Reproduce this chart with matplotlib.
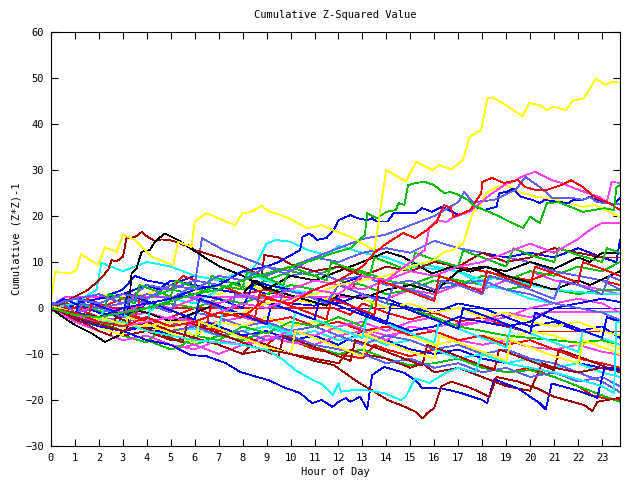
import matplotlib
matplotlib.use("Agg")
import matplotlib.pyplot as plt
import numpy as np

# colours used by the day lines (gnuplot-like palette)
R = '#ff0000'
G = '#00c000'
B = '#0000ff'
M = '#ff40ff'
C = '#00ffff'
D = '#a00000'
Y = '#ffff00'
K = '#000000'
L = '#6060ff'

# each day: (hour, cumulative value) points
blue_zero = [(0, 0), (23.75, 0)]
yellow_top = [(0, 1.5), (0.17, 7.8), (0.8, 7.6), (1.07, 8.3), (1.25, 11.7), (1.97, 9.3), (2.25, 13.2),
              (2.74, 12.2), (3.01, 15.9), (3.5, 14.8), (3.92, 12.6), (4.2, 11.2), (5.1, 9.3), (5.3, 14.4),
              (5.86, 13.3), (6.0, 18.8), (6.49, 20.6), (7.18, 19.1), (7.67, 18.0), (8.0, 20.6), (8.36, 20.9),
              (8.78, 22.2), (9.13, 20.9), (9.61, 20.2), (10.1, 19.1), (10.7, 17.3), (11.28, 18.0), (11.96, 16.5),
              (12.5, 15.5), (13.0, 14.0), (13.5, 12.6), (13.99, 30.0), (14.82, 27.5), (15.24, 31.8), (15.93, 30.0),
              (16.2, 31.1), (16.7, 30.1), (17.2, 32.2), (17.47, 37.2), (17.95, 38.7), (18.22, 45.6), (18.43, 45.8),
              (18.99, 44.1), (19.68, 41.7), (19.96, 44.6), (20.4, 44.1), (20.7, 43.0), (20.98, 43.8), (21.49, 43.0),
              (21.76, 45.0), (22.25, 45.6), (22.74, 49.9), (23.15, 48.5), (23.43, 49.2), (23.71, 49.0)]
green_top = [(0, 0), (1, -1.5), (2, -2), (3, -1), (4, 0), (5, 1.5), (6, 3), (7, 4), (8, 6), (9, 7.5), (10, 9),
             (11, 10.5), (11.8, 12), (12.5, 13), (13.1, 15.9), (13.2, 20.6), (13.6, 19.5), (14.0, 20.9),
             (14.4, 21.3), (14.5, 22.8), (14.75, 22.4), (14.9, 26.7), (15.25, 27.2), (15.6, 27.4), (16.0, 26.7),
             (16.4, 25.0), (16.7, 25.2), (17.0, 24.6), (17.4, 23.5), (17.6, 22.4), (17.9, 21.7), (18.6, 20.2),
             (19.0, 19.1), (19.7, 17.4), (20.0, 19.8), (20.4, 18.5), (20.7, 22.8), (21.2, 23.0), (22.2, 20.9),
             (23.1, 21.7), (23.5, 21.3), (23.6, 26.3), (23.75, 26.7)]
red_top = [(0, 0), (1, -1), (2, -3), (3, -4), (4, -2), (5, -4), (6, -3), (7, -1), (8, -2), (9, 2), (10, 1),
           (11, 4), (12, 6), (13, 9), (13.5, 12), (14.0, 14), (14.7, 16.3), (15.2, 15.2), (15.7, 17.0),
           (16.1, 18.7), (16.4, 22.4), (16.7, 21.7), (16.8, 19.8), (17.5, 21.3), (17.96, 25.0), (18.0, 27.4),
           (18.4, 28.3), (18.9, 27.2), (19.5, 27.8), (19.8, 26.3), (20.2, 25.7), (20.7, 25.7), (21.3, 26.7),
           (21.7, 27.8), (22.2, 26.3), (22.7, 24.1), (23.3, 22.8), (23.75, 21.3)]
magenta_top = [(0, 0), (1, -1.5), (2, -3), (3, -4), (5, -2), (6, -3), (8, 1), (9, 0), (11, 4), (12, 3),
               (13, 7), (14, 6), (15, 10), (15.6, 12.6), (15.8, 17.6), (16.1, 19.1), (16.5, 18.7), (16.75, 19.6),
               (17.5, 21), (18.3, 24.5), (19.0, 27.0), (19.25, 27.4), (19.8, 28.9), (20.2, 29.6), (20.9, 27.8),
               (21.3, 27.2), (21.8, 26.1), (22.3, 25.2), (22.9, 24.1), (23.2, 23.0), (23.4, 27.4), (23.75, 27.2)]
lblue_top = [(0, 0.5), (1, 2), (2, 1), (3, 3), (4, 2), (5, 5), (6, 4), (7, 7), (8, 6), (9, 9), (10, 8),
             (11, 11), (12, 13), (13, 15), (14, 16), (15, 18), (16, 20), (17, 23), (17.25, 25.2), (17.6, 23),
             (18.5, 23.5), (19.4, 25.7), (19.8, 28.5), (20.1, 27.4), (20.4, 26.3), (20.7, 25.0), (20.9, 23.9),
             (21.8, 23.9), (22.2, 23.5), (22.5, 24.1), (22.8, 23.0), (23.2, 22.8), (23.75, 22.6)]
blue_top = [(0, 0), (1, -1), (2, -2), (3, 0), (4, 1), (5, 2), (6, 4), (7, 5), (8, 8), (9, 9), (9.5, 10),
            (10.4, 12.6), (10.5, 15.5), (10.8, 16.2), (11.1, 14.8), (11.5, 15.2), (11.8, 17.0), (12.0, 19.1),
            (12.5, 20.2), (12.8, 19.5), (13.2, 19.1), (13.4, 19.5), (13.6, 18.8), (14.05, 18.8), (14.3, 20.6),
            (15.2, 20.6), (15.5, 21.7), (15.9, 20.9), (16.3, 22.0), (16.6, 21.3), (17.0, 20.2), (17.3, 20.6),
            (17.7, 22.0), (18.1, 21.3), (18.6, 22.0), (18.7, 24.9), (19.05, 25.3), (19.3, 26.0), (19.4, 25.3),
            (19.6, 24.2), (20.1, 23.5), (20.4, 22.8), (20.6, 23.5), (21.1, 23.1), (21.6, 22.8), (21.8, 23.5),
            (22.2, 23.5), (22.5, 24.2), (22.7, 23.5), (23.1, 23.1), (23.5, 22.4), (23.75, 24.0)]
yellow_b = [(0, 0.5), (1, -1), (2, -2), (3, -3.5), (4, -4), (5, -3), (6, -3), (7, -1), (8, -1), (9, 1), (10, 2),
            (11, 3), (12, 5), (13, 6), (14, 7), (15, 9), (16, 10.4), (16.4, 12.2), (16.8, 12.6), (17.2, 14.0),
            (17.6, 20.6), (17.9, 22.0), (18.15, 24.9), (18.4, 25.7), (18.7, 26.4), (19.0, 26.7), (19.5, 25.3),
            (20.2, 24.2), (20.9, 23.8), (21.6, 22.8), (22.2, 22.0), (22.7, 22.4), (23.3, 20.9), (23.75, 19.8)]
blue_low = [(0, 0), (0.5, -1), (1, -2), (2, -4), (3, -5), (4, -7), (5, -8), (5.8, -10.2), (6.5, -10.5),
            (7.3, -12), (7.9, -13.9), (8.6, -15), (9.1, -15.7), (9.7, -17.2), (10.4, -18.5), (10.9, -20.7),
            (11.3, -20), (11.75, -21.5), (12.0, -20.4), (12.3, -19.6), (12.5, -20.4), (12.9, -19.3), (13.2, -22),
            (13.4, -14.6), (13.9, -12.8), (14.75, -14.1), (15.2, -15.7), (15.5, -17.4), (16.3, -17.5),
            (17, -18.3), (18, -20), (18.2, -20.7), (18.5, -15.5), (19.5, -17.5), (20.4, -20.7), (20.65, -22),
            (20.9, -16.4), (22, -18), (22.8, -19.5), (23.1, -13), (23.75, -13.5)]
darkred_low = [(0, 0), (1, -2), (2, -3.5), (3, -5), (4, -3), (5, -5), (6, -6.5), (7, -8), (7.5, -9), (8, -10),
               (9, -9), (10, -10), (11, -11.5), (11.8, -12.4), (12.4, -14.6), (12.9, -16.4), (13.5, -18.2),
               (14.05, -20), (14.6, -21.1), (15.2, -22.5), (15.5, -24), (15.7, -22.9), (16, -21.7), (16.3, -17),
               (16.7, -16), (17.3, -17), (17.7, -17.8), (18.3, -19.3), (18.6, -15), (19.5, -16), (20.3, -17.5),
               (21, -19.3), (21.5, -20), (22.25, -21.1), (22.6, -22.4), (22.8, -20.4), (23.75, -19.5)]
cyan_low = [(0, 0), (1, -1.5), (2, -3), (3, -3), (4, -5), (5, -6), (6, -7), (7, -7.5), (8, -8), (9, -9.1),
            (9.7, -11.3), (10.2, -13.5), (10.8, -15.3), (11.35, -16.7), (11.76, -18.9), (12, -16.4), (12.1, -18.2),
            (12.67, -17.8), (13.1, -17.8), (13.9, -18.5), (14.6, -20), (14.8, -19.3), (15.2, -15.3), (15.8, -16.3),
            (16.5, -14), (17, -13), (17.7, -14), (18, -10), (19, -12), (20, -13), (21, -14), (22, -15.5),
            (23, -17), (23.5, -18.5), (23.6, -3), (23.75, -3)]
black_a = [(0, 0), (0.5, -2), (1, -3.7), (1.7, -5.5), (2.25, -7.4), (2.8, -6), (3.2, -4.1), (3.36, 7.5),
           (3.57, 8.6), (3.78, 12.2), (4.13, 12.6), (4.33, 14.4), (4.75, 16.2), (5.3, 14.8), (5.93, 12.6),
           (6.6, 10.4), (7.05, 9), (8, 7), (8.7, 5), (9.5, 3.5), (10.5, 2), (11.5, 0.5), (12, 3), (13, 2),
           (14, 4), (15, 5), (16, 3.5), (17, 8), (18, 9), (19, 8), (20, 10), (21, 8.5), (22, 11), (22.5, 10),
           (23, 12), (23.75, 12)]
black_b = [(0, 0), (1, -1), (2, -2), (3, 0), (4, -1), (5, -3), (6, -1), (7, 1), (8, 3), (8.5, 6), (9, 4),
           (10, 7), (11, 6), (12, 8), (13, 10), (14, 12.2), (14.7, 11.1), (15.4, 9), (15.9, 7.5), (16.75, 9),
           (17.5, 7.9), (18.2, 9), (19, 7), (20, 5.5), (21, 4), (22, 6), (22.5, 5), (23.75, 8)]
darkred_b = [(0, 0), (0.5, 1), (1, 2.5), (1.5, 3.8), (2, 6), (2.39, 8.3), (2.53, 10.4), (2.74, 10.1),
             (3.01, 11.2), (3.15, 15.2), (3.5, 15.4), (3.78, 16.5), (4.05, 15.4), (4.33, 14.6), (4.6, 14.9),
             (4.89, 14.8), (5.24, 14.4), (5.51, 13.7), (5.72, 13.7), (6.0, 12.6), (7, 11), (8, 9), (8.8, 7),
             (8.9, 11.5), (9.5, 11), (10, 9.5), (11, 8), (12, 9), (13, 7), (14, 9), (15, 8), (16, 10), (17, 9),
             (18, 12), (19, 10), (20, 11), (21, 13), (22, 12), (23, 11), (23.75, 11)]
red_zero = [(0, 0), (0.2, 0), (11.8, 0), (12.5, -1.5), (13, 1), (14, -1), (15, -2.5), (16, -1), (17, -3),
            (18, -2), (19, -4), (19.8, -5.1), (23.75, -5.1)]
magenta_flat = [(0, 0), (0.3, 1.5), (0.6, 2.4), (13.5, 2.4), (14, 2), (15, 4), (16, 3), (17, 5), (18, 4),
                (19, 6), (20, 8), (21, 6), (22, 5), (23, 4), (23.75, 3)]
magenta_end = [(0, 0), (2, -3), (4, -1), (6, -4), (8, -2), (10, -5), (12, -3), (14, -6), (16, -4), (18, -3),
               (19, -1), (20, -2), (20.7, -0.8), (23.75, -0.8)]
red_a = [(0, 0.5), (0.5, 1.5), (1, 0), (1.5, 2), (2, 1), (3, -1), (4, -2.5), (5, -4), (5.5, -2), (6, -3),
         (7, -5), (8, -6), (9, -8), (9.5, -6), (10, -7), (11, -9), (12, -10), (13, -11), (13.5, -8), (14, -9),
         (15, -10.5), (16, -9), (17, -11), (18, -12.5), (19, -14), (20, -13), (21, -15), (22, -17), (22.6, -19),
         (23, -19.5), (23.75, -20)]
green_b = [(0, 0), (0.5, -1), (1, -2.5), (2, -4), (3, -6), (4, -7.5), (4.5, -5), (5, -6.5), (6, -8), (7, -6),
           (8, -7), (9, -5), (10, -7), (11, -8.5), (12, -10), (13, -9), (14, -11), (15, -12.5), (16, -12),
           (17, -11), (18, -13), (19, -14), (20, -13.5), (21, -15), (22, -17), (22.5, -18), (23, -19),
           (23.75, -20.4)]
green_c = [(0, 0), (1, -2), (2, -3), (3, -5), (4, -7), (5, -9), (5.5, -8), (6, -6), (7, -7), (8, -4),
           (9, -5.5), (10, -3), (11, -4), (12, -2), (13, -4), (13.5, 2), (14, 1), (15, 0), (16, -2), (17, -4),
           (18, -5), (19, -6), (20, -6.5), (21, -7), (22, -7.5), (23, -7), (23.75, -8)]
lblue_b = [(0, 0), (1, -1), (2, -2), (3, -3), (4, -2), (5, -4), (6, -1), (7, -2), (8, -4), (9, -3), (10, -5),
           (11, -4), (12, -6), (13, -8), (14, -6), (15, -7), (16, -9), (17, -8), (18, -10), (19, -9), (20, -11),
           (21, -12), (22, -14), (23, -16), (23.75, -18.3)]
lblue_c = [(0, 1), (1, 2), (2, 3), (3, 1), (4, 5), (5, 4), (6, 6), (7, 5), (8, 8), (9, 7), (10, 9), (11, 11),
           (12, 10), (13, 12), (14, 13), (15, 12), (16, 14.6), (17, 13), (18, 12), (19, 11), (20, 10), (21, 8),
           (22, 7), (23, 6), (23.75, 4)]
lblue_d = [(0, 0), (0.5, 1), (1, -1), (2, 0), (3, 1), (4, 3), (5, 2), (6, 5), (6.3, 15.2), (7.2, 12.6),
           (8, 11), (9, 9), (10, 7), (11, 8), (12, 6), (13, 7), (14, 5), (15, 6), (16, 4), (17, 5), (18, 6),
           (19, 4), (20, 3), (21, 1), (22, 0), (23, -1), (23.75, -2.6)]
lblue_e = [(0, 0), (1, -1), (2, -3), (3, -4), (4, -3), (5, -5), (6, -4), (7, -6), (8, -5), (9, -7), (10, -6),
           (11, -8), (12, -9), (13, -10), (14, -12), (15, -11), (16, -13), (17, -12), (18, -14), (19, -13),
           (20, -15), (21, -14), (22, -16), (23, -15), (23.75, -17)]
lblue_f = [(0, 0), (0.5, -1), (1, -2), (1.3, 1), (2, 0), (3, -2), (3.3, 2), (4, 1), (5, -1), (5.3, 3), (6, 2),
           (7, 0), (7.5, -1), (7.7, 3), (8.5, 2), (9.5, 0), (9.7, 4), (10.5, 3), (11.5, 1), (12, 5), (13, 3),
           (14, 1), (14.3, 5), (15, 4), (16, 2), (16.3, 6), (17, 5), (18, 3), (18.3, 7), (19, 6), (20, 4),
           (21, 2), (21.3, 6), (22, 5), (23, 3), (23.3, 7), (23.75, 6)]
magenta_b = [(0, 0), (1, -3), (2, -5), (3, -7), (4, -6), (5, -8), (6, -9), (7, -7), (8, -8), (9, -6),
             (10, -7.5), (11, -8), (12, -6), (13, -5), (14, -7), (15, -4), (16, -5), (17, -7), (18, -8), (19, -7),
             (20, -8.5), (21, -9), (22, -8), (23, -9.5), (23.75, -10.2)]
magenta_c = [(0, -0.5), (1, -2), (2, -4), (3, -5), (4, -7), (5, -9), (6, -8), (7, -10), (8, -8), (9, -7),
             (10, -5), (11, -6), (12, -4), (13, -3), (14, -5), (15, -3), (16, -2), (17, -4), (18, -3), (19, -2),
             (20, 0), (21, 1), (22, 2), (23, 1), (23.75, -1)]
magenta_d = [(0, 0), (1, -1), (2, 0.5), (3, -1), (4, 1), (5, 0), (6, 2), (7, 1), (8, 3), (9, 2), (10, 4),
             (11, 6), (12, 5), (13, 4), (14, 6), (15, 8), (16, 7), (17, 9), (18, 10), (19, 12), (20, 14),
             (20.5, 13), (21, 12), (22, 15), (22.5, 17), (23, 18.5), (23.75, 18.5)]
cyan_b = [(0, 0), (1, 1), (1.9, 4), (2.1, 9.8), (3, 8), (4, 10), (5, 9), (6, 7), (7, 6), (8, 8), (9, 6),
          (10, 4), (11, 3), (12, 5), (13, 4), (14, 6), (15, 10), (16, 9), (17, 8), (18, 6), (19, 7), (20, 5),
          (21, 4), (22, 3.5), (23, 3), (23.75, 3)]
cyan_c = [(0, 0), (1, -1), (2, -2), (3, 0), (4, -1), (5, 2), (6, 1), (7, 4), (8, 6), (8.5, 9), (9, 14),
          (9.4, 14.8), (10, 14.4), (10.7, 12.6), (11.5, 11.5), (12, 13.5), (13, 12), (14, 11), (15, 9),
          (16, 8.5), (17, 8), (18, 5), (19, 4), (20, 2), (21, 1), (22, 0), (23, -1), (23.75, -1)]
cyan_d = [(0, 0), (1, -1.5), (2, -2), (3, -4), (4, -3), (5, -5), (6, -4.5), (7, -6), (8, -5), (9, -4),
          (10, -6), (11, -5), (12, -7), (13, -6), (14, -8), (15, -7), (16, -9), (17, -11), (18, -10), (19, -12),
          (20, -11), (21, -13), (22, -12), (23, -14), (23.75, -15)]
cyan_e = [(0, 0), (0.5, -1), (1, -2), (1.5, -3), (2, -4), (2.2, 0), (3, -1.5), (4, -3.5), (4.2, 1), (5, -0.5),
          (6, -2.5), (7, -4.5), (7.2, 0), (8, -1.5), (9, -3.5), (10, -5.5), (10.2, -1), (11, -2.5), (12, -4.5),
          (13, -6.5), (13.2, -2), (14, -3.5), (15, -5.5), (16, -7.5), (16.2, -3), (17, -4.5), (18, -6.5),
          (19, -8.5), (19.2, -4), (20, -5.5), (21, -7.5), (22, -9.5), (22.2, -5), (23, -6.5), (23.75, -8)]
blue_b = [(0, 0), (0.5, 2), (1, 1), (2, -1), (3, -2), (4, 1), (5, 2), (6, 3), (7, 2), (8, 0), (8.5, 6),
          (9, 5), (10, 4), (11, 6), (12, 5), (13, 7), (14, 6), (15, 8), (16, 10), (17, 9), (18, 12), (19, 11),
          (20, 12), (21, 11), (22, 13), (23, 11), (23.6, 10), (23.75, 14.8)]
blue_c = [(0, 0), (1, -2), (2, -3), (3, -5), (4, -4), (5, -6), (6, -7), (6.5, -3), (7, -4), (8, -6), (9, -5),
          (10, -7), (11, -6), (12, -8), (13, -5), (14, -7), (15, -9), (16, -10), (17, -9), (18, -11), (19, -12),
          (20, -11), (21, -13), (22, -12), (23, -13), (23.75, -13)]
blue_d = [(0, 0), (1, 1), (2, 2), (3, 3), (4, 5), (4.5, 4), (5, 6), (6, 5), (7, 4), (8, 3), (9, 2), (10, 1),
          (11, 0.5), (12, 2), (13, -1), (14, -3), (15, -5), (16, -4), (17, -2), (18, -3), (19, -4), (20, -3),
          (21, 0), (22, 1), (23, 2), (23.75, 1.3)]
blue_e = [(0, 0), (0.5, -1), (1, 1), (2, 2), (3, 4), (3.5, 7), (4, 6), (5, 5), (6, 7), (7, 6), (8, 5), (9, 3),
          (10, 4), (11, 2), (12, 1), (13, 3), (14, 2), (15, 0), (16, -1), (17, 1), (18, 0), (19, -2), (20, -4),
          (21, -3), (22, -5), (23, -4), (23.75, -6.5)]
blue_f = [(0, 0), (0.5, -1), (1, -2), (1.2, 2), (2, 0.5), (3, -1.5), (3.2, 3), (4, 1.5), (5, -0.5), (6, -2.5),
          (6.2, 2), (7, 0.5), (8, -1.5), (9, -3.5), (9.2, 1), (10, -0.5), (11, -2.5), (11.2, 2), (12, 0.5),
          (13, -1.5), (14, -3.5), (14.2, 1), (15, -0.5), (16, -2.5), (17, -4.5), (17.2, 0), (18, -1.5),
          (19, -3.5), (20, -5.5), (20.2, -1), (21, -2.5), (22, -4.5), (23, -6.5), (23.2, -2), (23.75, -3)]
red_b = [(0, 0), (1, 1), (2, 0), (3, 2), (3.5, 3), (4, 2), (5, 4), (5.5, 7), (6, 6), (7, 5), (8, 3), (9, 4),
         (10, 2), (11, 3), (12, 5), (12.5, 4), (13, 7), (14, 6), (15, 8), (16, 7), (17, 9), (18, 8), (19, 7),
         (20, 6), (21, 8), (22, 7), (23, 6), (23.75, 5)]
red_c = [(0, 1), (1, 0), (2, -2), (3, -1), (4, -3), (5, -2), (6, 0), (7, -2), (8, -1), (9, -3), (10, -2),
         (11, -4), (12, -3), (13, -5), (14, -4), (15, -6), (16, -5), (17, -7), (18, -6), (19, -8), (20, -7),
         (21, -9), (22, -11), (23, -12), (23.75, -13)]
red_d = [(0, 0), (0.5, -1), (1, -2), (1.5, -3), (1.7, 1), (2.5, -0.5), (3.5, -2.5), (3.7, 2), (4.5, 0.5),
         (5.5, -1.5), (6.5, -3.5), (6.7, 1), (7.5, -0.5), (8.5, -2.5), (8.7, 3), (9.5, 1.5), (10.5, -0.5),
         (11.5, -2.5), (11.7, 2), (12.5, 0.5), (13.5, -1.5), (13.7, 6), (14.5, 4.5), (15.5, 2.5), (16, 1.5),
         (16.2, 7), (17, 5.5), (18, 3.5), (18.2, 8), (19, 6.5), (20, 4.5), (20.2, 9), (21, 7.5), (22, 5.5),
         (22.2, 10), (23, 8.5), (23.75, 7)]
darkred_c = [(0, 0), (1, -2), (2, -4), (3, -6), (4, -5), (5, -7), (6, -6.5), (7, -8), (8, -10), (8.5, -7),
             (9, -8), (10, -10), (11, -11), (12, -12), (12.5, -9), (13, -10), (14, -11), (15, -13), (15.5, -12),
             (16, -14), (17, -13), (18, -15), (19, -17), (20, -18), (20.5, -12), (21, -13), (22, -14), (23, -13),
             (23.75, -13.9)]
darkred_d = [(0, 0), (0.5, -1), (1, -2.5), (1.5, -3.5), (2, -5), (2.5, -6), (2.7, -2), (3.5, -3.5), (4.5, -5.5),
             (5.5, -7.5), (5.7, -3), (6.5, -4.5), (7.5, -6.5), (8.5, -8.5), (9.5, -10.5), (9.7, -6), (10.5, -7.5),
             (11.5, -9.5), (12.5, -11.5), (12.7, -7), (13.5, -8.5), (14.5, -10.5), (15.5, -12.5), (15.7, -8),
             (16.5, -9.5), (17.5, -11.5), (18.5, -13.5), (18.7, -9), (19.5, -10.5), (20.5, -12.5), (21, -13.5),
             (21.2, -9), (22, -10.5), (23, -12.5), (23.75, -14)]
green_d = [(0, 0), (1, 2), (2, 1), (3, 3), (4, 2), (5, 4), (6, 3), (7, 5), (8, 4), (9, 6), (10, 8), (11, 7),
           (12, 9), (13, 8), (14, 6), (15, 5), (16, 7), (17, 6), (18, 5), (19, 4), (20, 5), (21, 4), (22, 3),
           (23, 4), (23.75, 3.9)]
green_e = [(0, 0), (1, -1), (2, 0), (3, -2), (4, 0), (5, 1), (6, 0), (7, 2), (8, 1), (9, 3), (10, 5), (11, 4),
           (12, 6), (13, 5), (14, 3), (15, 4), (16, 6), (17, 5), (18, 7), (19, 6), (20, 8), (21, 7), (22, 9),
           (23, 8), (23.75, 10)]
green_f = [(0, 0), (0.5, -1), (1, -2), (1.2, 1), (1.7, 0), (2.2, -1), (2.4, 3), (3, 2), (3.5, 1), (3.7, 5),
           (4.5, 3.5), (5, 2.5), (5.2, 6), (6, 4.5), (6.5, 3.5), (6.7, 7), (7.5, 5.5), (8, 4.5), (8.2, 8),
           (9, 6.5), (9.7, 5), (10, 9), (11, 7), (11.5, 6), (11.7, 10), (12.5, 8.5), (13.3, 7), (13.5, 11),
           (14.5, 9), (15, 8), (15.2, 12), (16, 10.5), (17, 9), (17.2, 12.5), (18, 11), (19, 9), (19.3, 13),
           (20, 11.5), (21, 10), (21.2, 13), (22, 11.5), (23, 10), (23.2, 13), (23.75, 12)]
yellow_c = [(0, 0.5), (1, -1), (2, -2.5), (3, -3), (4, -5), (5, -4), (6, -6), (7, -3), (8, -4), (9, -2),
            (10, -4), (11, -3), (12, -5), (13, -6), (14, -4), (15, -6), (16, -8), (17, -7), (18, -6), (19, -7),
            (20, -5), (21, -6), (22, -8), (23, -7), (23.75, -9)]
yellow_d = [(0, 0), (1, 2), (2, 3), (3, 2.5), (4, 3), (5, 5), (6, 4), (7, 3), (8, 5), (9, 4), (10, 2), (11, 1),
            (12, 3), (13, 2), (14, 0), (15, 1), (16, -1), (17, 0), (18, -2), (19, -1), (20, -3), (21, -4),
            (22, -3), (23, -5), (23.75, -6)]
yellow_e = [(0, 0), (0.5, -1), (1, -2), (1.5, -3), (2, -4), (2.5, -5), (3, -6), (3.2, -2), (4, -3.5),
            (5, -5.5), (6, -7.5), (6.2, -3), (7, -4.5), (8, -6.5), (9, -8.5), (10, -10), (10.2, -5), (11, -6.5),
            (12, -8.5), (13, -10.5), (13.2, -6), (14, -7.5), (15, -9.5), (16, -11), (16.2, -6), (17, -7.5),
            (18, -9.5), (19, -11.5), (19.2, -7), (20, -8.5), (21, -10.5), (22, -12), (22.2, -7), (23, -8.5),
            (23.75, -10)]

days = [
    (blue_zero, B), (red_zero, R), (magenta_flat, M), (magenta_end, M),
    (red_a, R), (green_b, G), (blue_c, B), (magenta_b, M), (cyan_d, C), (lblue_b, L), (darkred_c, D),
    (yellow_c, Y), (red_c, R), (lblue_e, L), (magenta_c, M), (green_c, G), (blue_e, B), (yellow_d, Y),
    (blue_d, B), (red_b, R), (green_d, G), (green_e, G), (cyan_b, C), (cyan_c, C), (lblue_c, L),
    (lblue_d, L), (blue_b, B), (black_b, K), (darkred_b, D), (black_a, K),
    (green_f, G), (magenta_d, M), (lblue_f, L), (darkred_d, D), (red_d, R), (cyan_e, C), (blue_f, B),
    (yellow_e, Y),
    (blue_low, B), (darkred_low, D), (cyan_low, C),
    (yellow_b, Y), (blue_top, B), (lblue_top, L), (magenta_top, M), (red_top, R), (green_top, G),
    (yellow_top, Y),
]

mono = 'DejaVu Sans Mono'

fig = plt.figure(figsize=(6.4, 4.8), dpi=100)
ax = fig.add_axes([51 / 640, 34 / 480, 569 / 640, 414 / 480])

for pts, col in days:
    hrs = [p[0] for p in pts]
    vals = [p[1] for p in pts]
    ax.plot(hrs, vals, color=col, lw=0.55, antialiased=False)

ax.set_xlim(0, 23.75)
ax.set_ylim(-30, 60)
ax.set_xticks(np.arange(0, 24, 1))
ax.set_yticks(np.arange(-30, 61, 10))
ax.tick_params(direction='in', length=5, width=0.8, top=True, right=True,
               labelsize=7.5, pad=5)
for lab in ax.get_xticklabels() + ax.get_yticklabels():
    lab.set_family(mono)
for sp in ax.spines.values():
    sp.set_linewidth(0.8)

ax.set_title('Cumulative Z-Squared Value', fontsize=7.5, family=mono, pad=10)
ax.set_xlabel('Hour of Day', fontsize=7.5, family=mono, labelpad=3)
ax.set_ylabel('Cumulative (Z*Z)-1', fontsize=7.5, family=mono, labelpad=3)

fig.savefig('out.png', dpi=100)
